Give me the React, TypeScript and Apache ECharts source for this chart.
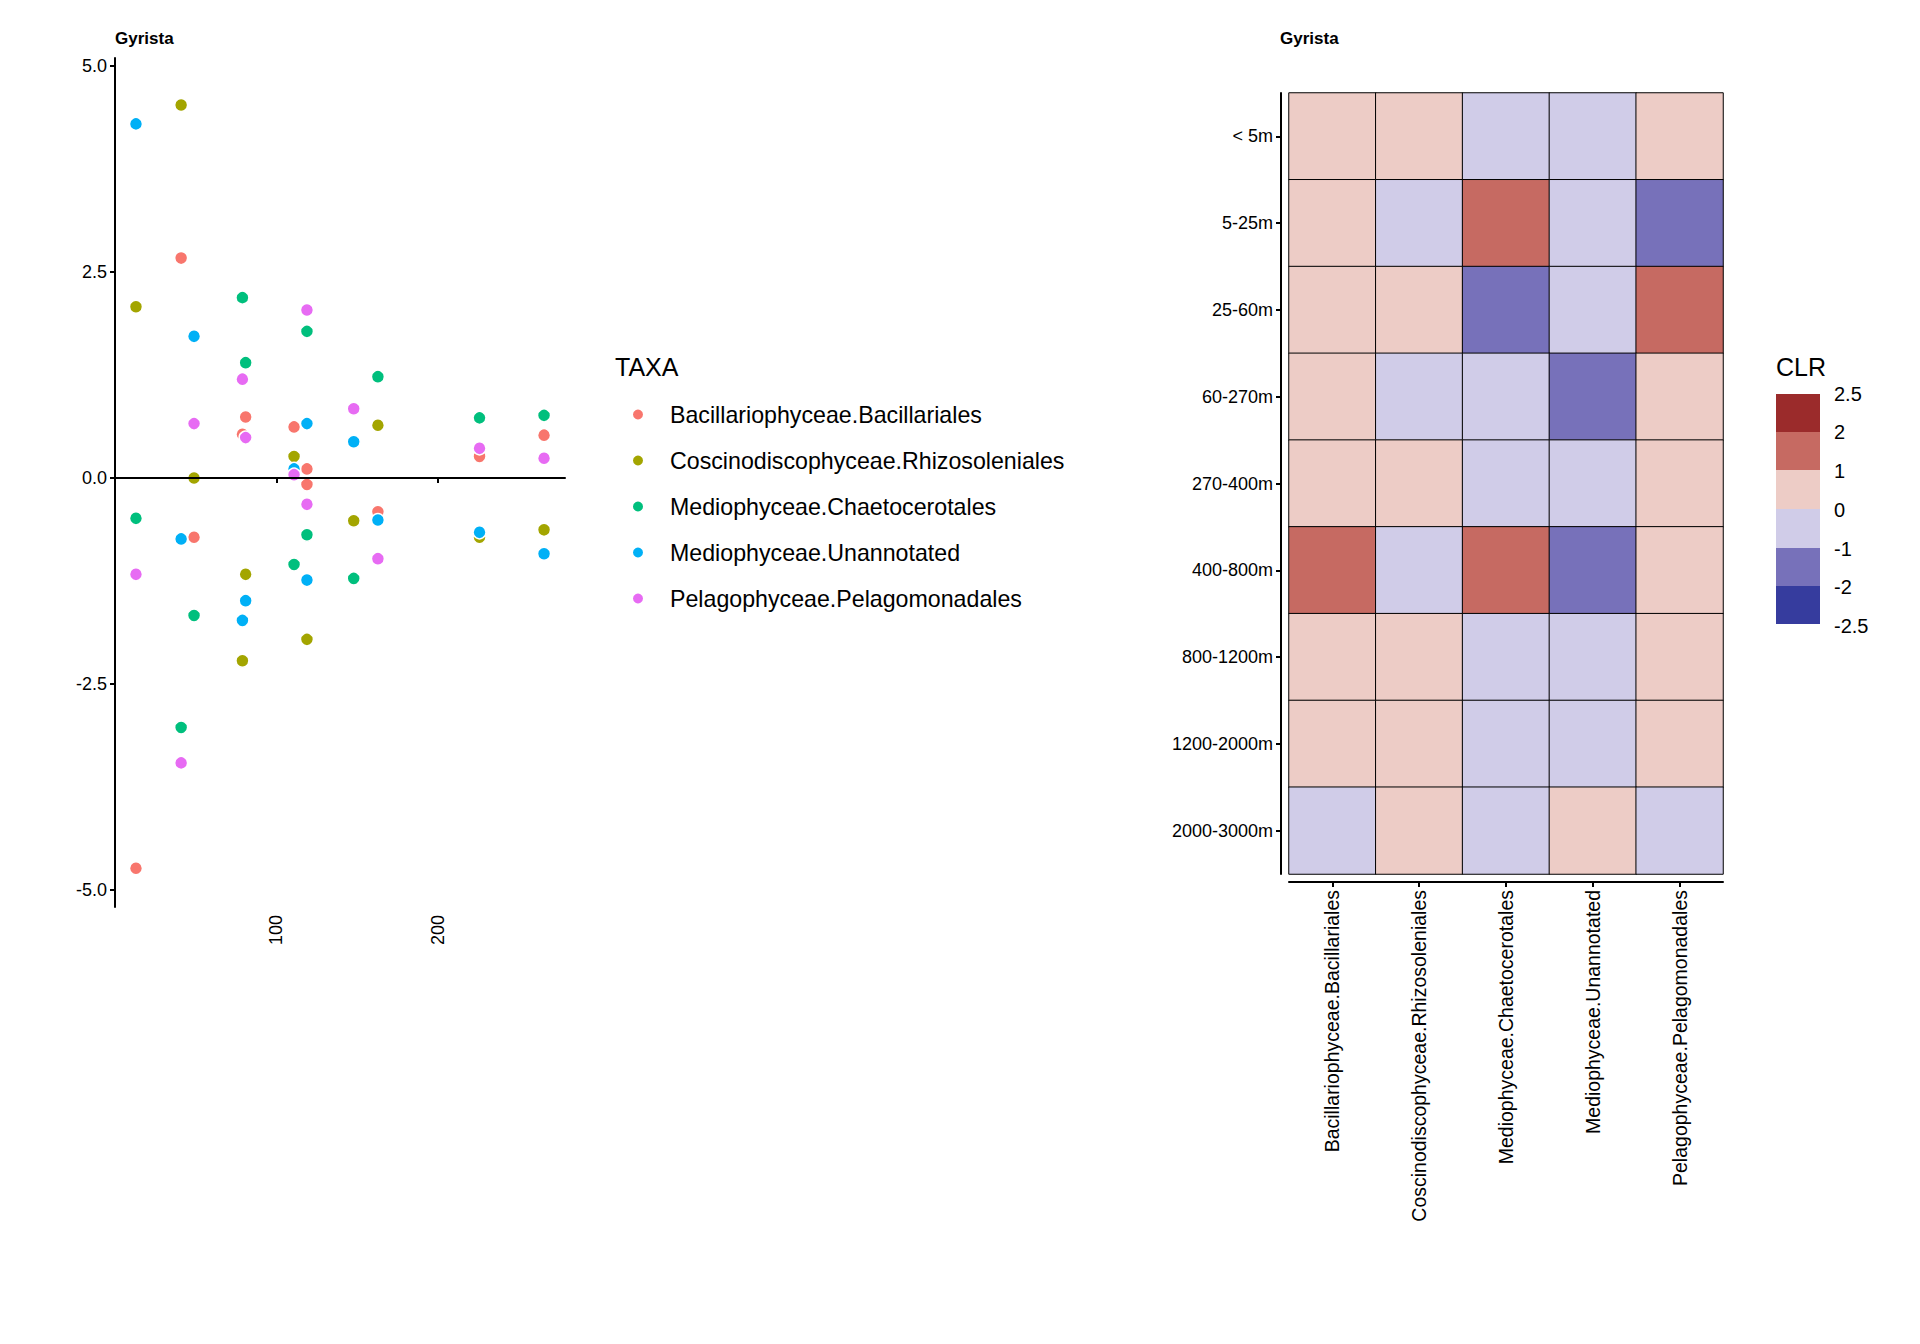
import React, { useEffect, useRef } from 'react';
import * as echarts from 'echarts';

const taxa = [
  'Bacillariophyceae.Bacillariales',
  'Coscinodiscophyceae.Rhizosoleniales',
  'Mediophyceae.Chaetocerotales',
  'Mediophyceae.Unannotated',
  'Pelagophyceae.Pelagomonadales',
];
const taxaColors = ['#F8766D', '#A3A500', '#00BF7D', '#00B0F6', '#E76BF3'];

// [x, CLR] per taxon
const bacillariales = [[41, 2.67], [81, 0.74], [111, 0.62], [79, 0.53], [266, 0.52], [226, 0.26], [119, 0.11], [119, -0.08], [163, -0.41], [49, -0.72], [13, -4.74]];
const rhizosoleniales = [[41, 4.53], [13, 2.08], [163, 0.64], [111, 0.26], [49, 0.0], [148, -0.52], [226, -0.72], [266, -0.63], [81, -1.17], [119, -1.96], [79, -2.22]];
const chaetocerotales = [[79, 2.19], [119, 1.78], [81, 1.4], [163, 1.23], [226, 0.73], [266, 0.76], [13, -0.49], [119, -0.69], [111, -1.05], [148, -1.22], [49, -1.67], [41, -3.03]];
const unannotated = [[13, 4.3], [49, 1.72], [119, 0.66], [148, 0.44], [111, 0.11], [163, -0.51], [41, -0.74], [226, -0.66], [266, -0.92], [119, -1.24], [81, -1.49], [79, -1.73]];
const pelagomonadales = [[119, 2.04], [79, 1.2], [148, 0.84], [49, 0.66], [81, 0.49], [226, 0.36], [266, 0.24], [111, 0.04], [119, -0.32], [163, -0.98], [13, -1.17], [41, -3.46]];
const scatterSets = [bacillariales, rhizosoleniales, chaetocerotales, unannotated, pelagomonadales];
const yTicks = [-5, -2.5, 0, 2.5, 5];

const depths = ['< 5m', '5-25m', '25-60m', '60-270m', '270-400m', '400-800m', '800-1200m', '1200-2000m', '2000-3000m'];
// CLR per depth row, columns follow taxa order
const clrRows = [
  [0.5, 0.5, -0.5, -0.5, 0.5],
  [0.5, -0.5, 1.5, -0.5, -1.5],
  [0.5, 0.5, -1.5, -0.5, 1.5],
  [0.5, -0.5, -0.5, -1.5, 0.5],
  [0.5, 0.5, -0.5, -0.5, 0.5],
  [1.5, -0.5, 1.5, -1.5, 0.5],
  [0.5, 0.5, -0.5, -0.5, 0.5],
  [0.5, 0.5, -0.5, -0.5, 0.5],
  [-0.5, 0.5, -0.5, 0.5, -0.5],
];
const clrBreaks = [2.5, 2, 1, 0, -1, -2, -2.5];
const clrColors = ['#9B2B2B', '#C66A62', '#EDCCC6', '#D0CCE8', '#7771BA', '#363C9E'];

const font = 'Liberation Sans, Arial, sans-serif';

const App = () => {
  const chartRef = useRef<HTMLDivElement>(null);

  useEffect(() => {
    if (!chartRef.current) return;
    const chart = echarts.init(chartRef.current, null, { renderer: 'svg' });

    const heatData: number[][] = [];
    clrRows.forEach((row, r) => row.forEach((v, c) => heatData.push([c, r, v])));

    const pieces = clrColors.map((color, i) => ({ min: clrBreaks[i + 1], max: clrBreaks[i], color }));

    // CLR legend boxes
    const barLeft = 1776;
    const barTop = 394;
    const boxH = [38, 38, 39, 39, 38, 38];
    const legendGraphics: any[] = [];
    let y = barTop;
    clrColors.forEach((c, i) => {
      legendGraphics.push({ type: 'rect', shape: { x: barLeft, y, width: 44, height: boxH[i] }, style: { fill: c } });
      y += boxH[i];
    });
    const labelY = [394, 432, 471, 510, 549, 587, 626];
    clrBreaks.forEach((b, i) => {
      legendGraphics.push({
        type: 'text', x: barLeft + 58, y: labelY[i],
        style: { text: String(b), font: `20px ${font}`, fill: '#000', verticalAlign: 'middle' },
      });
    });

    const black = { color: '#000', width: 2 };

    chart.setOption({
      animation: false,
      textStyle: { fontFamily: font },
      grid: [
        { left: 115, top: 58, width: 450, height: 849 },
        { left: 1289, top: 93, width: 434, height: 781 },
      ],
      xAxis: [
        {
          gridIndex: 0, type: 'value', min: 0, max: 279, interval: 100,
          splitLine: { show: false },
          axisLine: { lineStyle: black },
          axisTick: { show: true, customValues: [100, 200], lineStyle: black },
          axisLabel: { rotate: 90, fontSize: 18, color: '#000', customValues: [100, 200] },
        },
        {
          gridIndex: 1, type: 'category', data: taxa, offset: 8,
          axisLine: { lineStyle: black },
          axisTick: { show: true, alignWithLabel: true, lineStyle: black },
          axisLabel: { rotate: 90, fontSize: 19.5, color: '#000', interval: 0 },
        },
      ],
      yAxis: [
        {
          gridIndex: 0, type: 'value', min: -5.21, max: 5.1,
          splitLine: { show: false },
          axisLine: { show: true, lineStyle: black },
          axisTick: { show: true, customValues: yTicks, lineStyle: black },
          axisLabel: { fontSize: 18, color: '#000', customValues: yTicks, formatter: (v: number) => v.toFixed(1) },
        },
        {
          gridIndex: 1, type: 'category', data: depths, inverse: true, offset: 8,
          axisLine: { lineStyle: black },
          axisTick: { show: true, alignWithLabel: true, lineStyle: black },
          axisLabel: { fontSize: 18, color: '#000', interval: 0 },
        },
      ],
      visualMap: { show: false, type: 'piecewise', seriesIndex: 5, dimension: 2, pieces },
      legend: {
        data: taxa, orient: 'vertical', left: 626, top: 397,
        itemWidth: 14, itemHeight: 12, itemGap: 21, icon: 'circle',
        textStyle: { fontSize: 23.2, lineHeight: 25, color: '#000', fontFamily: font, padding: [0, 0, 0, 20] },
      },
      series: [
        ...scatterSets.map((data, i) => ({
          type: 'scatter', name: taxa[i], xAxisIndex: 0, yAxisIndex: 0, data,
          symbolSize: 13, itemStyle: { color: taxaColors[i], borderColor: '#fff', borderWidth: 1.5, opacity: 1 },
          markLine: i === 0 ? {
            silent: true, symbol: 'none', label: { show: false },
            lineStyle: { color: '#000', width: 2, type: 'solid' },
            data: [{ yAxis: 0 }],
          } : undefined,
        })),
        {
          type: 'heatmap', xAxisIndex: 1, yAxisIndex: 1, data: heatData,
          itemStyle: { borderColor: '#000', borderWidth: 1 },
        },
      ],
      graphic: [
        { type: 'text', x: 115, y: 30, style: { text: 'Gyrista', font: `bold 17px ${font}`, fill: '#000' } },
        { type: 'text', x: 1280, y: 30, style: { text: 'Gyrista', font: `bold 17px ${font}`, fill: '#000' } },
        { type: 'text', x: 615, y: 354, style: { text: 'TAXA', font: `25px ${font}`, fill: '#000' } },
        { type: 'text', x: barLeft, y: 354, style: { text: 'CLR', font: `25px ${font}`, fill: '#000' } },
        ...legendGraphics,
      ],
    });

    return () => chart.dispose();
  }, []);

  return (
    <div
      ref={chartRef}
      style={{ position: 'absolute', left: 0, top: 0, width: '1920px', height: '1344px', background: '#fff' }}
    ></div>
  );
};

export default App;
